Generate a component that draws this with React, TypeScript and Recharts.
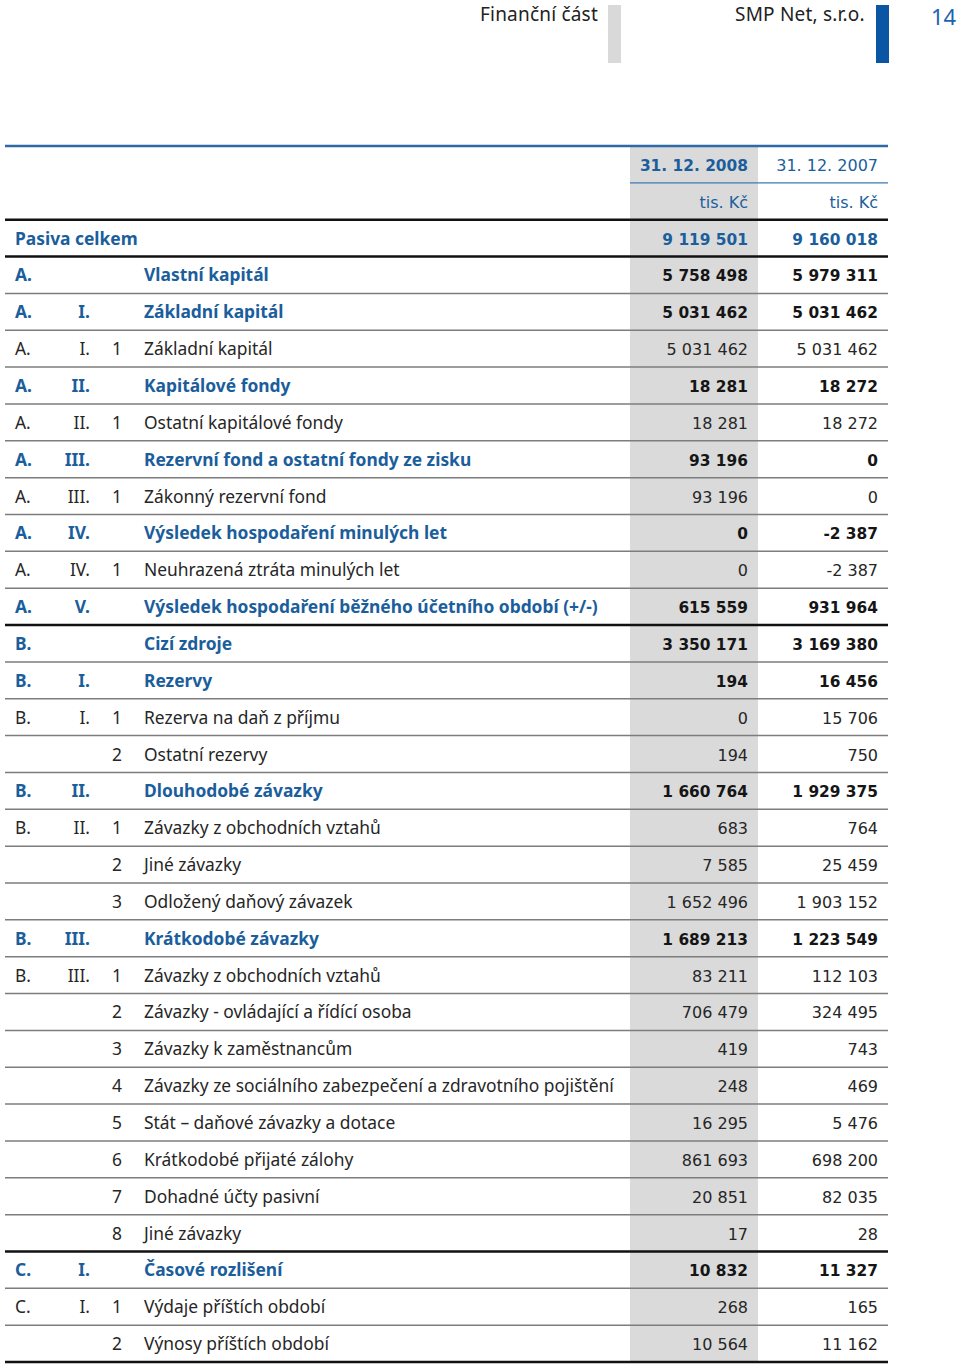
import React from "react";
import { ComposedChart, XAxis, YAxis, Bar } from "recharts";

// ---------- data ----------
const sections = ["", "A.", "A.", "A.", "A.", "A.", "A.", "A.", "A.", "A.", "A.", "B.", "B.", "B.", "", "B.", "B.", "", "", "B.", "B.", "", "", "", "", "", "", "", "C.", "C.", ""];
const romans = ["", "", "I.", "I.", "II.", "II.", "III.", "III.", "IV.", "IV.", "V.", "", "I.", "I.", "", "II.", "II.", "", "", "III.", "III.", "", "", "", "", "", "", "", "I.", "I.", ""];
const items = ["", "", "", "1", "", "1", "", "1", "", "1", "", "", "", "1", "2", "", "1", "2", "3", "", "1", "2", "3", "4", "5", "6", "7", "8", "", "1", "2"];
const labels = [
  "Pasiva celkem",
  "Vlastní kapitál",
  "Základní kapitál",
  "Základní kapitál",
  "Kapitálové fondy",
  "Ostatní kapitálové fondy",
  "Rezervní fond a ostatní fondy ze zisku",
  "Zákonný rezervní fond",
  "Výsledek hospodaření minulých let",
  "Neuhrazená ztráta minulých let",
  "Výsledek hospodaření běžného účetního období (+/-)",
  "Cizí zdroje",
  "Rezervy",
  "Rezerva na daň z příjmu",
  "Ostatní rezervy",
  "Dlouhodobé závazky",
  "Závazky z obchodních vztahů",
  "Jiné závazky",
  "Odložený daňový závazek",
  "Krátkodobé závazky",
  "Závazky z obchodních vztahů",
  "Závazky - ovládající a řídící osoba",
  "Závazky k zaměstnancům",
  "Závazky ze sociálního zabezpečení a zdravotního pojištění",
  "Stát – daňové závazky a dotace",
  "Krátkodobé přijaté zálohy",
  "Dohadné účty pasivní",
  "Jiné závazky",
  "Časové rozlišení",
  "Výdaje příštích období",
  "Výnosy příštích období",
];
const values2008 = [9119501, 5758498, 5031462, 5031462, 18281, 18281, 93196, 93196, 0, 0, 615559, 3350171, 194, 0, 194, 1660764, 683, 7585, 1652496, 1689213, 83211, 706479, 419, 248, 16295, 861693, 20851, 17, 10832, 268, 10564];
const values2007 = [9160018, 5979311, 5031462, 5031462, 18272, 18272, 0, 0, -2387, -2387, 931964, 3169380, 16456, 15706, 750, 1929375, 764, 25459, 1903152, 1223549, 112103, 324495, 743, 469, 5476, 698200, 82035, 28, 11327, 165, 11162];
const columnHeads = ["31. 12. 2008", "31. 12. 2007"];
const unitLabel = "tis. Kč";
const heavyRuleRows = [0, 1, 11, 28];

// ---------- styles ----------
const W = 960;
const H = 1364;
const TOP = 146;
const ROW_H = 36.85;
const BLUE = "#1b5e9c";
const TEXT = "#262626";
const GRAY_COL = "#dadada";
const LABEL_FONT = "'Noto Sans', 'Open Sans', sans-serif";
const NUM_FONT = "'DejaVu Sans', sans-serif";
const LABEL_SIZE = 17.4;

const fmt = (n: number) => {
  const s = Math.abs(n).toString().replace(/\B(?=(\d{3})+(?!\d))/g, " ");
  return (n < 0 ? "-" : "") + s;
};

type Row = {
  key: string;
  kind: "head" | "unit" | "data";
  i: number;
  v2008?: number;
  v2007?: number;
};

const tableRows: Row[] = [
  { key: "head", kind: "head", i: -1 },
  { key: "unit", kind: "unit", i: -1 },
  ...labels.map((_, i) => ({ key: "r" + i, kind: "data" as const, i, v2008: values2008[i], v2007: values2007[i] })),
];
const rowByKey: Record<string, Row> = {};
tableRows.forEach((r) => (rowByKey[r.key] = r));

const COL_X0 = 630;
const COL_X1 = 758;
const LINE_X0 = 5;
const LINE_X1 = 888;
const V1_X = 748;
const V2_X = 878;

function RowTick(props: any) {
  const { y, payload } = props;
  const row = rowByKey[payload.value];
  if (!row) return null;
  const top = y - ROW_H / 2;
  const base = y + 6.5;
  const els: React.ReactNode[] = [];
  els.push(<rect key="bg" x={COL_X0} y={top} width={COL_X1 - COL_X0} height={ROW_H} fill={GRAY_COL} />);

  if (row.kind === "head") {
    els.push(<line key="l" x1={LINE_X0} x2={LINE_X1} y1={top} y2={top} stroke="#2d6aa6" strokeWidth={2.6} />);
    els.push(
      <text key="a" x={V1_X} y={base} textAnchor="end" fontFamily={NUM_FONT} fontWeight="bold" fontSize={15.4} fill={BLUE}>
        {columnHeads[0]}
      </text>
    );
    els.push(
      <text key="b" x={V2_X} y={base} textAnchor="end" fontFamily={NUM_FONT} fontSize={16} fill={BLUE}>
        {columnHeads[1]}
      </text>
    );
  } else if (row.kind === "unit") {
    els.push(<line key="l" x1={COL_X0} x2={LINE_X1} y1={top} y2={top} stroke="#3c78b4" strokeWidth={1.4} />);
    els.push(
      <text key="a" x={V1_X} y={base} textAnchor="end" fontFamily={NUM_FONT} fontSize={16} fill={BLUE}>
        {unitLabel}
      </text>
    );
    els.push(
      <text key="b" x={V2_X} y={base} textAnchor="end" fontFamily={NUM_FONT} fontSize={16} fill={BLUE}>
        {unitLabel}
      </text>
    );
  } else {
    const i = row.i;
    const bold = items[i] === "";
    const heavy = heavyRuleRows.includes(i);
    els.push(
      <line
        key="l"
        x1={LINE_X0}
        x2={LINE_X1}
        y1={top}
        y2={top}
        stroke={heavy ? "#111111" : "#7d7d7d"}
        strokeWidth={heavy ? 2.6 : 1.5}
      />
    );
    if (i === labels.length - 1) {
      els.push(<line key="lb" x1={LINE_X0} x2={LINE_X1} y1={top + ROW_H} y2={top + ROW_H} stroke="#111111" strokeWidth={2.6} />);
    }
    const lblColor = bold ? BLUE : TEXT;
    const valColor = i === 0 ? BLUE : bold ? "#151515" : TEXT;
    const fw = bold ? "bold" : "normal";
    const lf = { fontFamily: LABEL_FONT, fontSize: LABEL_SIZE, fontWeight: fw, fill: lblColor } as any;
    if (i === 0) {
      els.push(<text key="lab" x={15} y={base} {...lf}>{labels[i]}</text>);
    } else {
      if (sections[i]) els.push(<text key="s" x={15} y={base} {...lf}>{sections[i]}</text>);
      if (romans[i]) els.push(<text key="r" x={90} y={base} textAnchor="end" {...lf}>{romans[i]}</text>);
      if (items[i]) els.push(<text key="n" x={122} y={base} textAnchor="end" {...lf}>{items[i]}</text>);
      els.push(<text key="lab" x={144} y={base} {...lf}>{labels[i]}</text>);
    }
    const nf = { fontFamily: NUM_FONT, fontSize: bold ? 15.4 : 16, fontWeight: fw, fill: valColor } as any;
    els.push(<text key="v1" x={V1_X} y={base} textAnchor="end" {...nf}>{fmt(values2008[i])}</text>);
    els.push(<text key="v2" x={V2_X} y={base} textAnchor="end" {...nf}>{fmt(values2007[i])}</text>);
  }
  return <g>{els}</g>;
}

export default function App() {
  return (
    <div style={{ position: "relative", width: W, height: H, background: "#fff", overflow: "hidden" }}>
      <style>{"body{margin:0;background:#fff}"}</style>
      <div style={{ position: "absolute", left: 480, top: 0, fontFamily: LABEL_FONT, fontSize: 19, letterSpacing: 0.2, color: "#222", lineHeight: "28px" }}>
        Finanční část
      </div>
      <div style={{ position: "absolute", left: 608, top: 5, width: 13, height: 58, background: "#d9d9d9" }} />
      <div style={{ position: "absolute", left: 735, top: 0, fontFamily: LABEL_FONT, fontSize: 19, letterSpacing: 0.2, color: "#222", lineHeight: "28px" }}>
        SMP Net, s.r.o.
      </div>
      <div style={{ position: "absolute", left: 876, top: 5, width: 13, height: 58, background: "#0a56a4" }} />
      <div style={{ position: "absolute", left: 931, top: 1, fontFamily: LABEL_FONT, fontSize: 22, color: "#1c64b0", lineHeight: "30px" }}>
        14
      </div>
      <div style={{ position: "absolute", left: 0, top: 0 }}>
        <ComposedChart
          width={W}
          height={H}
          layout="vertical"
          data={tableRows}
          margin={{ top: TOP, right: 0, bottom: H - TOP - ROW_H * tableRows.length, left: 0 }}
        >
          <XAxis type="number" domain={[0, W]} allowDataOverflow hide />
          <YAxis
            type="category"
            dataKey="key"
            width={2}
            axisLine={false}
            tickLine={false}
            interval={0}
            tick={(p: any) => <RowTick {...p} />}
          />
          <Bar dataKey="v2008" fill="none" stroke="none" isAnimationActive={false} />
          <Bar dataKey="v2007" fill="none" stroke="none" isAnimationActive={false} />
        </ComposedChart>
      </div>
    </div>
  );
}
